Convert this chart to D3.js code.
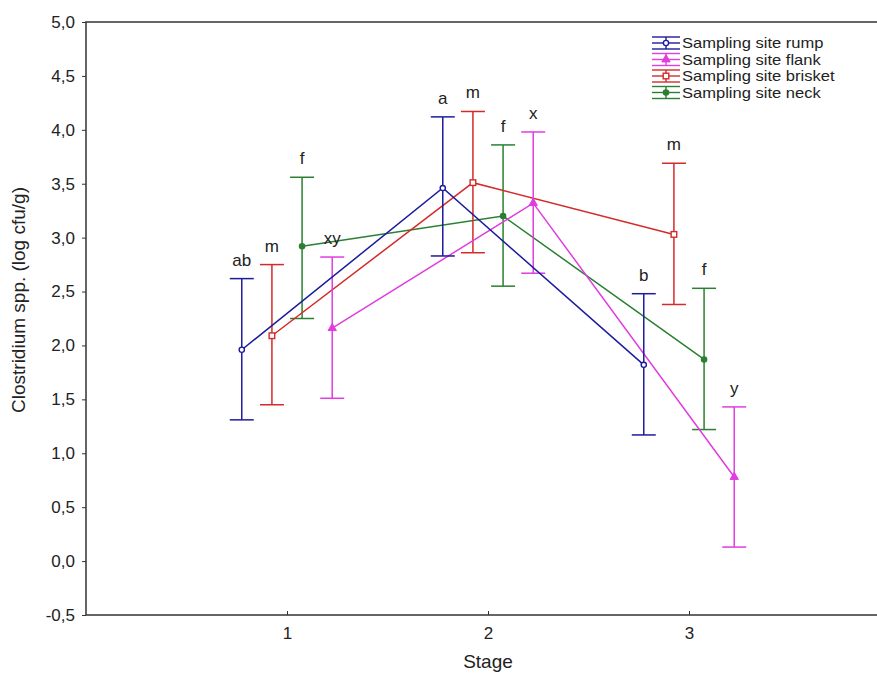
<!DOCTYPE html>
<html>
<head>
<meta charset="utf-8">
<script src="https://cdn.jsdelivr.net/npm/d3@7"></script>
<style>
  body { margin: 0; background: #fff; }
  svg text { font-family: "Liberation Sans", Arial, sans-serif; fill: #222; }
</style>
</head>
<body>
<svg id="chart" width="877" height="682"></svg>
<script>
const stages = [1, 2, 3];
const series = ["Sampling site rump", "Sampling site flank", "Sampling site brisket", "Sampling site neck"];
const colors = ["#1c1c9c", "#e03ce0", "#d42a2a", "#2a8030"];
const shapes = ["circleOpen", "triangle", "squareOpen", "circle"];
const offsets = [-0.225, 0.225, -0.075, 0.075];

const rumpMean = [1.96, 3.46, 1.82];
const rumpLow = [1.31, 2.83, 1.17];
const rumpHigh = [2.62, 4.12, 2.48];
const flankMean = [2.16, 3.32, 0.78];
const flankLow = [1.51, 2.67, 0.13];
const flankHigh = [2.82, 3.98, 1.43];
const brisketMean = [2.09, 3.51, 3.03];
const brisketLow = [1.45, 2.86, 2.38];
const brisketHigh = [2.75, 4.17, 3.69];
const neckMean = [2.92, 3.20, 1.87];
const neckLow = [2.25, 2.55, 1.22];
const neckHigh = [3.56, 3.86, 2.53];

const rumpLetters = ["ab", "a", "b"];
const flankLetters = ["xy", "x", "y"];
const brisketLetters = ["m", "m", "m"];
const neckLetters = ["f", "f", "f"];

const yTicks = [-0.5, 0, 0.5, 1, 1.5, 2, 2.5, 3, 3.5, 4, 4.5, 5];

const means = [rumpMean, flankMean, brisketMean, neckMean];
const lows = [rumpLow, flankLow, brisketLow, neckLow];
const highs = [rumpHigh, flankHigh, brisketHigh, neckHigh];
const letters = [rumpLetters, flankLetters, brisketLetters, neckLetters];

const svg = d3.select("#chart");
const x = d3.scaleLinear().domain([0, 4]).range([86, 890]);
const y = d3.scaleLinear().domain([-0.5, 5]).range([615, 22]);
const fmt = v => d3.format(".1f")(v).replace(".", ",").replace("−", "-");

// frame
svg.append("rect")
  .attr("x", x(0)).attr("y", y(5))
  .attr("width", x(4) - x(0)).attr("height", y(-0.5) - y(5))
  .attr("fill", "none").attr("stroke", "#333").attr("stroke-width", 1.5);

// y axis
const yAxis = svg.append("g").attr("transform", `translate(${x(0)},0)`)
  .call(d3.axisLeft(y).tickValues(yTicks).tickFormat(fmt).tickSize(4).tickPadding(7));
yAxis.select(".domain").remove();
yAxis.attr("font-size", null).attr("font-family", null);
yAxis.selectAll("text").style("font-size", "17px");
yAxis.selectAll("line").attr("stroke", "#333");

// x axis
const xAxis = svg.append("g").attr("transform", `translate(0,${y(-0.5)})`)
  .call(d3.axisBottom(x).tickValues(stages).tickFormat(d3.format("d")).tickSize(-4).tickPadding(12));
xAxis.select(".domain").remove();
xAxis.attr("font-size", null).attr("font-family", null);
xAxis.selectAll("text").style("font-size", "17px");
xAxis.selectAll("line").attr("stroke", "#333");

svg.append("text")
  .attr("x", x(2)).attr("y", 668)
  .attr("text-anchor", "middle").style("font-size", "19px")
  .text("Stage");

svg.append("text")
  .attr("transform", "translate(25,300) rotate(-90)")
  .attr("text-anchor", "middle").style("font-size", "19px")
  .text("Clostridium spp. (log cfu/g)");

function marker(g, shape, cx, cy, color) {
  if (shape === "circleOpen" || shape === "circle") {
    g.append("circle").attr("cx", cx).attr("cy", cy).attr("r", 2.6)
      .attr("fill", shape === "circle" ? color : "#fff")
      .attr("stroke", color).attr("stroke-width", 1.4);
  } else if (shape === "squareOpen") {
    g.append("rect").attr("x", cx - 2.8).attr("y", cy - 2.8).attr("width", 5.6).attr("height", 5.6)
      .attr("fill", "#fff").attr("stroke", color).attr("stroke-width", 1.4);
  } else {
    g.append("path")
      .attr("d", d3.symbol(d3.symbolTriangle, 30)())
      .attr("transform", `translate(${cx},${cy})`)
      .attr("fill", color).attr("stroke", color).attr("stroke-width", 1);
  }
}

const drawOrder = [3, 2, 1, 0];
drawOrder.forEach(s => {
  const g = svg.append("g");
  const color = colors[s];
  const px = i => x(stages[i] + offsets[s]);

  g.append("path")
    .datum(stages.map((st, i) => [px(i), y(means[s][i])]))
    .attr("d", d3.line())
    .attr("fill", "none").attr("stroke", color).attr("stroke-width", 1.5);

  stages.forEach((st, i) => {
    const cx = px(i);
    g.append("line").attr("x1", cx).attr("x2", cx)
      .attr("y1", y(lows[s][i])).attr("y2", y(highs[s][i]))
      .attr("stroke", color).attr("stroke-width", 1.5);
    [lows[s][i], highs[s][i]].forEach(v => {
      g.append("line").attr("x1", cx - 12).attr("x2", cx + 12)
        .attr("y1", y(v)).attr("y2", y(v))
        .attr("stroke", color).attr("stroke-width", 1.5);
    });
    marker(g, shapes[s], cx, y(means[s][i]), color);
    svg.append("text")
      .attr("x", cx).attr("y", y(highs[s][i]) - 13)
      .attr("text-anchor", "middle").style("font-size", "17px")
      .text(letters[s][i]);
  });
});

// legend
const legend = svg.append("g").attr("transform", "translate(666,43)");
series.forEach((name, s) => {
  const row = legend.append("g").attr("transform", `translate(0,${s * 16.5})`);
  const color = colors[s];
  [-6, 0, 6].forEach(dy => {
    row.append("line").attr("x1", -14).attr("x2", 14).attr("y1", dy).attr("y2", dy)
      .attr("stroke", color).attr("stroke-width", 1.4);
  });
  row.append("line").attr("x1", 0).attr("x2", 0).attr("y1", -6).attr("y2", 6)
    .attr("stroke", color).attr("stroke-width", 1.4);
  marker(row, shapes[s], 0, 0, color);
  const t = row.append("text").attr("x", 16).attr("y", 5).style("font-size", "14.5px").text(name);
  const w = t.node().getComputedTextLength();
  t.attr("textLength", w * 1.14).attr("lengthAdjust", "spacingAndGlyphs");
});
</script>
</body>
</html>
